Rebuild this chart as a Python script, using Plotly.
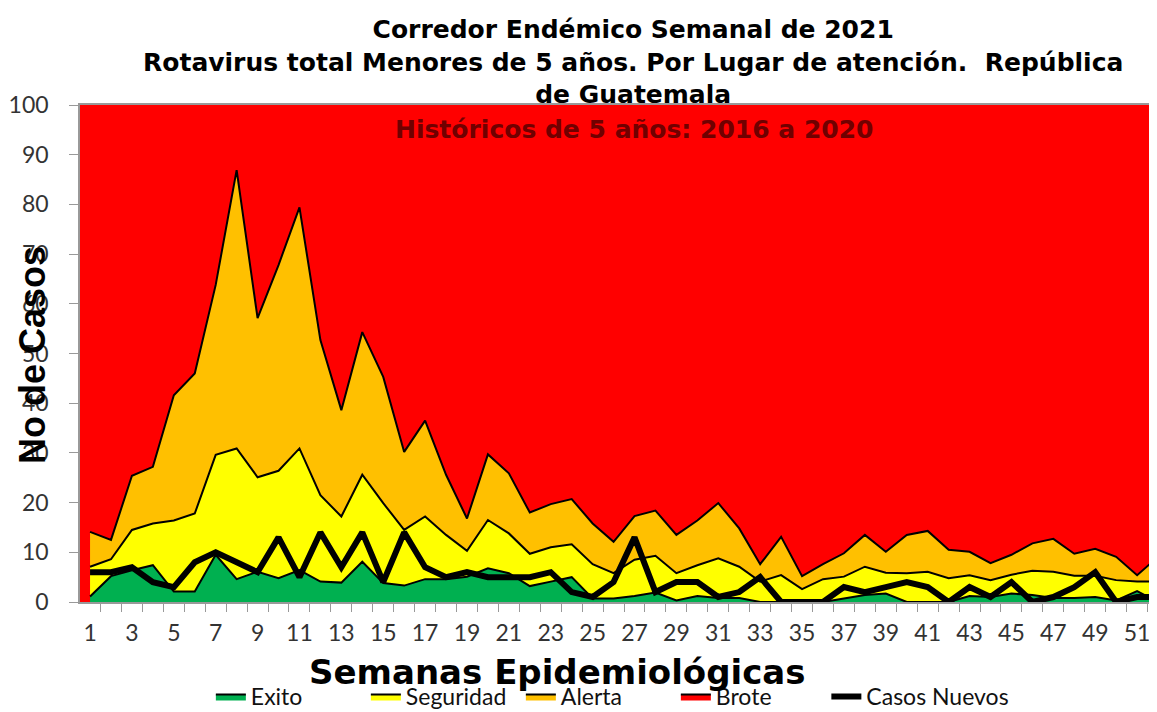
import plotly.graph_objects as go

# semanas epidemiologicas
semanas = list(range(1, 53))

# limites superiores de cada zona del corredor
exito = [1.1, 5.2, 6.4, 7.4, 2.1, 2.1, 9.5, 4.6, 6.1, 4.8, 6.4, 4.1, 3.9, 8.1, 3.8, 3.3,
         4.6, 4.6, 5.1, 6.8, 5.8, 3.2, 4.1, 5.0, 0.7, 0.7, 1.2, 1.9, 0.3, 1.2, 0.8, 0.8,
         0.0, 0.0, 0.0, 0.0, 0.7, 1.4, 1.7, 0.0, 0.0, 0.0, 1.2, 1.0, 1.7, 1.4, 0.8, 0.8,
         1.0, 0.3, 2.2, 0.0]
seguridad = [7.1, 8.6, 14.5, 15.8, 16.4, 17.8, 29.6, 30.9, 25.1, 26.4, 30.9, 21.5, 17.2, 25.6,
             19.9, 14.5, 17.2, 13.5, 10.3, 16.5, 13.8, 9.7, 11.0, 11.6, 7.6, 5.8, 8.5, 9.3,
             5.8, 7.4, 8.8, 7.1, 4.1, 5.4, 2.6, 4.6, 5.1, 7.1, 5.9, 5.8, 6.1, 4.8, 5.4, 4.4,
             5.5, 6.3, 6.1, 5.3, 5.3, 4.4, 4.1, 4.1]
alerta = [14.1, 12.5, 25.4, 27.2, 41.6, 46.0, 63.8, 86.9, 57.1, 67.8, 79.4, 52.7, 38.6, 54.3,
          45.3, 30.2, 36.5, 25.6, 16.8, 29.7, 25.9, 18.0, 19.7, 20.7, 15.8, 12.1, 17.3, 18.4,
          13.5, 16.4, 19.9, 14.8, 7.6, 13.1, 5.2, 7.6, 9.8, 13.5, 10.1, 13.5, 14.3, 10.5,
          10.1, 7.8, 9.5, 11.8, 12.7, 9.7, 10.7, 9.1, 5.4, 9.1]
casos_nuevos = [6, 6, 7, 4, 3, 8, 10, 8, 6, 13, 5, 14, 7, 14, 4, 14, 7, 5, 6, 5, 5, 5, 6, 2,
                1, 4, 13, 2, 4, 4, 1, 2, 5, 0, 0, 0, 3, 2, 3, 4, 3, 0, 3, 1, 4, 0, 1, 3,
                6, 0, 1, 1]

etiquetas_x = list(range(1, 53, 2))

TITLE_FONT = "DejaVu Sans, Liberation Sans, Arial"
TICK_FONT = "Lato, Open Sans"

fig = go.Figure()

fig.add_trace(go.Scatter(x=semanas, y=exito, name="Exito", mode="lines",
                         line=dict(color="black", width=2), fill="tozeroy",
                         fillcolor="#00B050"))
fig.add_trace(go.Scatter(x=semanas, y=seguridad, name="Seguridad", mode="lines",
                         line=dict(color="black", width=2), fill="tonexty",
                         fillcolor="#FFFF00"))
fig.add_trace(go.Scatter(x=semanas, y=alerta, name="Alerta", mode="lines",
                         line=dict(color="black", width=2), fill="tonexty",
                         fillcolor="#FFC000"))
# Brote = fondo rojo del area de trazado, solo entrada de leyenda
fig.add_trace(go.Scatter(x=[None], y=[None], name="Brote", mode="lines",
                         line=dict(color="black", width=2), fill="toself",
                         fillcolor="#FF0000"))
fig.add_trace(go.Scatter(x=semanas, y=casos_nuevos, name="Casos Nuevos", mode="lines",
                         line=dict(color="black", width=6), legend="legend2"))

# la pagina tiene 8px de margen, la figura se ajusta a la ventana
fig.update_layout(
    width=1149, height=704,
    margin=dict(l=72, r=0, t=97, b=110, autoexpand=False),
    paper_bgcolor="white",
    plot_bgcolor="#FF0000",
    font=dict(family="Liberation Sans, Arial", color="black"),
    showlegend=True,
    legend=dict(orientation="h", x=0.1215, xanchor="left", y=-0.19, yanchor="middle",
                font=dict(size=23, family=TICK_FONT, color="#111111"),
                bgcolor="rgba(0,0,0,0)", traceorder="normal",
                entrywidth=110),
    legend2=dict(orientation="h", x=0.693, xanchor="left", y=-0.19, yanchor="middle",
                 font=dict(size=23, family=TICK_FONT, color="#111111"),
                 bgcolor="rgba(0,0,0,0)"),
    xaxis=dict(
        range=[0.52, 51.95], automargin=False,
        tickmode="array", tickvals=etiquetas_x, ticktext=[str(v) for v in etiquetas_x],
        ticks="", showgrid=False, zeroline=False,
        showline=True, linecolor="#999999", linewidth=1.5, mirror=True,
        tickfont=dict(size=23, family=TICK_FONT, color="#333333"),
        ticklabelstandoff=10,
        minor=dict(tick0=0.5, dtick=1, ticks="outside", ticklen=8, tickcolor="#999999",
                   showgrid=False),
    ),
    yaxis=dict(
        range=[0, 100], tickmode="linear", tick0=0, dtick=10, automargin=False,
        ticks="outside", ticklen=9, tickcolor="#999999",
        showgrid=False, zeroline=False,
        showline=True, linecolor="#999999", linewidth=1.5, mirror=True,
        tickfont=dict(size=23, family=TICK_FONT, color="#333333"),
        ticklabelstandoff=16,
    ),
    annotations=[
        dict(text="<b>Corredor Endémico Semanal de 2021<br>"
                  "Rotavirus total Menores de 5 años. Por Lugar de atención.  República<br>"
                  "de Guatemala</b>",
             xref="paper", yref="paper", x=0.513, y=1.0865,
             xanchor="center", yanchor="middle", showarrow=False,
             font=dict(size=25, family=TITLE_FONT, color="black")),
        dict(text="<b>Históricos de 5 años: 2016 a 2020</b>", xref="paper", yref="paper",
             x=0.515, y=0.950, xanchor="center", yanchor="middle", showarrow=False,
             font=dict(size=25, family=TITLE_FONT, color="#700000")),
        dict(text="<b>Semanas Epidemiológicas</b>", xref="paper", yref="paper",
             x=0.443, y=-0.141, xanchor="center", yanchor="middle", showarrow=False,
             font=dict(size=34, family=TITLE_FONT, color="black")),
        dict(text="<b>No de Casos</b>", xref="paper", yref="paper",
             x=-0.0436, y=0.497, xanchor="center", yanchor="middle", showarrow=False,
             textangle=-90,
             font=dict(size=36, family="Liberation Sans, Arial", color="black")),
    ],
)

fig.write_html("out.html")
